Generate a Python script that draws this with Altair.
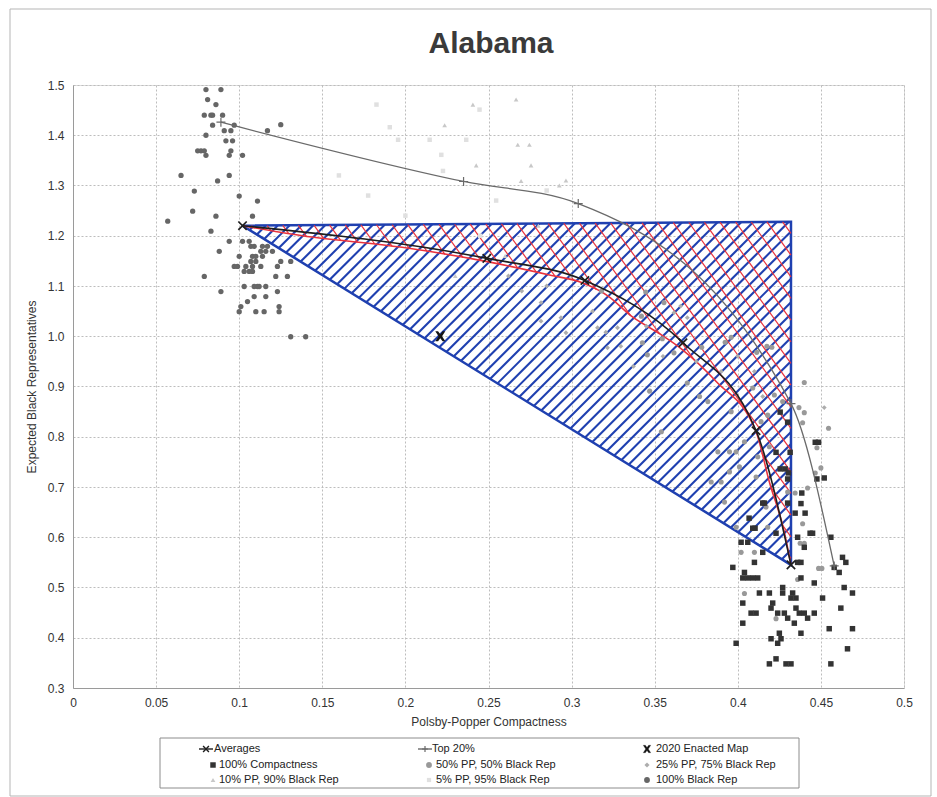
import altair as alt
import pandas as pd
import numpy as np

# ---------------- data ----------------
x_ticks = [0, 0.05, 0.1, 0.15, 0.2, 0.25, 0.3, 0.35, 0.4, 0.45, 0.5]
y_ticks = [0.3, 0.4, 0.5, 0.6, 0.7, 0.8, 0.9, 1.0, 1.1, 1.2, 1.3, 1.4, 1.5]

avg_x = [0.102, 0.249, 0.308, 0.367, 0.411, 0.432]
avg_y = [1.220, 1.155, 1.111, 0.987, 0.812, 0.545]

top_x = [0.089, 0.235, 0.304, 0.432, 0.458]
top_y = [1.426, 1.308, 1.264, 0.866, 0.543]

enacted_x = [0.221]
enacted_y = [1.000]

tri_x = [0.102, 0.432, 0.432, 0.102]
tri_y = [1.220, 1.228, 0.545, 1.220]

red_x = [0.102, 0.138, 0.198, 0.250, 0.288, 0.306, 0.322, 0.336, 0.352, 0.366, 0.387, 0.411, 0.419, 0.428, 0.432]
red_y = [1.220, 1.200, 1.177, 1.148, 1.121, 1.107, 1.080, 1.040, 1.007, 0.975, 0.910, 0.810, 0.710, 0.610, 0.545]

bk_x = [0.080, 0.089, 0.081, 0.086, 0.079, 0.083, 0.084, 0.090, 0.084, 0.097, 0.091, 0.095, 0.117, 0.125,
        0.080, 0.092, 0.096, 0.075, 0.077, 0.079, 0.095, 0.080, 0.094, 0.102, 0.065, 0.094, 0.087, 0.073,
        0.100, 0.111, 0.072, 0.086, 0.108, 0.057, 0.083,
        0.094, 0.102, 0.106, 0.107, 0.109, 0.114, 0.117, 0.088, 0.113, 0.116, 0.120, 0.100, 0.108, 0.110,
        0.114, 0.107, 0.110, 0.125, 0.131, 0.097, 0.099, 0.104, 0.108, 0.113, 0.123, 0.103, 0.106, 0.108,
        0.079, 0.122, 0.129, 0.089, 0.103, 0.109, 0.111, 0.112, 0.116, 0.109, 0.116, 0.123, 0.105, 0.101,
        0.100, 0.110, 0.115, 0.124, 0.124, 0.131, 0.140]
bk_y = [1.491, 1.491, 1.471, 1.461, 1.440, 1.440, 1.440, 1.440, 1.420, 1.420, 1.409, 1.409, 1.409, 1.421,
        1.400, 1.389, 1.389, 1.369, 1.369, 1.369, 1.369, 1.360, 1.360, 1.360, 1.320, 1.320, 1.309, 1.289,
        1.279, 1.269, 1.249, 1.239, 1.239, 1.229, 1.209,
        1.189, 1.189, 1.189, 1.179, 1.179, 1.179, 1.179, 1.169, 1.169, 1.169, 1.169, 1.159, 1.159, 1.159,
        1.159, 1.149, 1.149, 1.149, 1.149, 1.139, 1.139, 1.139, 1.139, 1.139, 1.139, 1.129, 1.129, 1.129,
        1.119, 1.119, 1.119, 1.089, 1.099, 1.099, 1.099, 1.099, 1.099, 1.079, 1.079, 1.089, 1.069, 1.059,
        1.049, 1.049, 1.049, 1.059, 1.049, 0.999, 0.999]

cp_x = [0.4255, 0.430, 0.4466, 0.4486, 0.4315, 0.423, 0.4476, 0.452, 0.4255, 0.4285, 0.4305, 0.430, 0.4385,
        0.415, 0.416, 0.430, 0.438, 0.4345, 0.4405, 0.4068, 0.409, 0.4104, 0.4435, 0.445, 0.423,
        0.456, 0.402, 0.406, 0.436, 0.440, 0.415, 0.463, 0.465, 0.410, 0.397, 0.436, 0.438, 0.458, 0.461,
        0.404, 0.403, 0.406, 0.409, 0.412, 0.438, 0.446, 0.464, 0.427, 0.469, 0.413, 0.419, 0.427, 0.433,
        0.432, 0.435, 0.451, 0.403, 0.421, 0.420, 0.435, 0.462, 0.408, 0.411, 0.424, 0.428, 0.437, 0.440,
        0.446, 0.430, 0.442, 0.403, 0.434, 0.455, 0.469, 0.425, 0.438, 0.420, 0.426, 0.399, 0.424, 0.466,
        0.423, 0.419, 0.429, 0.432, 0.456]
cp_y = [0.849, 0.829, 0.789, 0.789, 0.769, 0.769, 0.716, 0.718, 0.736, 0.736, 0.728, 0.716, 0.688,
        0.668, 0.668, 0.668, 0.667, 0.648, 0.648, 0.638, 0.618, 0.618, 0.608, 0.608, 0.608,
        0.600, 0.590, 0.590, 0.600, 0.580, 0.570, 0.560, 0.550, 0.550, 0.540, 0.550, 0.550, 0.540, 0.530,
        0.530, 0.519, 0.519, 0.519, 0.519, 0.519, 0.509, 0.500, 0.500, 0.489, 0.489, 0.489, 0.489, 0.489,
        0.479, 0.479, 0.479, 0.469, 0.469, 0.459, 0.459, 0.459, 0.449, 0.449, 0.449, 0.449, 0.449, 0.449,
        0.449, 0.439, 0.439, 0.429, 0.429, 0.418, 0.418, 0.409, 0.409, 0.398, 0.398, 0.389, 0.389, 0.378,
        0.358, 0.348, 0.348, 0.348, 0.348]

p50_x = [0.3446, 0.3556, 0.3426, 0.3456, 0.3546, 0.3616, 0.3696, 0.342, 0.318,
         0.347, 0.354, 0.377, 0.382, 0.396, 0.404, 0.388, 0.395, 0.399, 0.412, 0.411, 0.395, 0.401, 0.384,
         0.390, 0.392, 0.417, 0.399, 0.418, 0.402, 0.410, 0.430, 0.419, 0.414, 0.418, 0.409, 0.422, 0.427,
         0.3783, 0.3924, 0.396, 0.4175, 0.4205, 0.4114, 0.440, 0.4368, 0.440, 0.439, 0.4546, 0.4476, 0.450,
         0.4466, 0.442, 0.4345, 0.439, 0.4375, 0.440, 0.4486, 0.4506, 0.436, 0.423, 0.404]
p50_y = [1.088, 1.067, 0.987, 0.963, 0.995, 0.967, 0.907, 1.040, 1.090,
         0.891, 0.810, 0.880, 0.870, 0.850, 0.790, 0.770, 0.770, 0.770, 0.760, 0.720, 0.730, 0.740, 0.710,
         0.710, 0.670, 0.660, 0.620, 0.620, 0.570, 0.570, 0.690, 0.780, 0.830, 0.843, 0.897, 0.883, 0.870,
         0.978, 0.988, 0.998, 0.980, 0.978, 0.968, 0.908, 0.858, 0.848, 0.828, 0.817, 0.778, 0.738,
         0.728, 0.698, 0.688, 0.627, 0.588, 0.588, 0.538, 0.538, 0.516, 0.438, 0.488]

p25_x = [0.2816, 0.2936, 0.2816, 0.2966, 0.3126, 0.3156, 0.3276, 0.3216, 0.3296, 0.3372, 0.3466, 0.3616,
         0.3656, 0.3696, 0.262, 0.270, 0.285, 0.300, 0.345, 0.355, 0.375, 0.390, 0.400, 0.410, 0.452,
         0.415, 0.3206]
p25_y = [1.067, 1.037, 1.030, 1.007, 1.050, 1.017, 1.017, 0.977, 0.980, 0.940, 0.890, 1.047,
         1.060, 1.037, 1.120, 1.090, 1.100, 1.120, 1.020, 0.960, 0.950, 0.930, 0.960, 0.930, 0.858,
         0.880, 1.008]

p10_x = [0.2406, 0.2666, 0.2236, 0.2676, 0.2746, 0.2426, 0.2756, 0.2696, 0.2966, 0.2926, 0.280, 0.260, 0.230]
p10_y = [1.461, 1.471, 1.420, 1.381, 1.381, 1.340, 1.340, 1.309, 1.310, 1.300, 1.220, 1.160, 1.120]

p05_x = [0.1826, 0.1956, 0.2146, 0.2216, 0.2226, 0.1776, 0.2546, 0.2446, 0.1906, 0.2366, 0.160, 0.200, 0.285, 0.245]
p05_y = [1.461, 1.391, 1.391, 1.361, 1.329, 1.280, 1.270, 1.451, 1.416, 1.391, 1.320, 1.240, 1.290, 1.200]

legend_labels = ["Averages", "Top 20%", "2020 Enacted Map",
                 "100% Compactness", "50% PP, 50% Black Rep", "25% PP, 75% Black Rep",
                 "10% PP, 90% Black Rep", "5% PP, 95% Black Rep", "100% Black Rep"]

# ---------------- styling / layout ----------------
FONT = "Liberation Sans"
W, H = 831, 603
XD, YD = [0.0, 0.5], [0.3, 1.5]
SX = W / (XD[1] - XD[0])
SY = H / (YD[1] - YD[0])
BLUE = "#1f40b0"
RED = "#e8323c"
X_PATH = "M-1,-1L1,1M-1,1L1,-1"
PLUS_PATH = "M-1,0L1,0M0,-1L0,1"
BOWX_PATH = "M-1,-1L-0.45,-1L0,-0.4L0.45,-1L1,-1L0.35,0L1,1L0.45,1L0,0.4L-0.45,1L-1,1L-0.35,0Z"

series_style = {
    "5% PP, 95% Black Rep": ("#e0e0e0", "square", 20),
    "10% PP, 90% Black Rep": ("#c8c8c8", "triangle-up", 30),
    "25% PP, 75% Black Rep": ("#adadad", "diamond", 30),
    "50% PP, 50% Black Rep": ("#999999", "circle", 60),
    "100% Black Rep": ("#666666", "circle", 55),
    "100% Compactness": ("#333333", "square", 46),
}
series_data = {
    "5% PP, 95% Black Rep": (p05_x, p05_y),
    "10% PP, 90% Black Rep": (p10_x, p10_y),
    "25% PP, 75% Black Rep": (p25_x, p25_y),
    "50% PP, 50% Black Rep": (p50_x, p50_y),
    "100% Black Rep": (bk_x, bk_y),
    "100% Compactness": (cp_x, cp_y),
}
names = list(series_style)
scat = pd.concat([pd.DataFrame({"x": xs, "y": ys, "series": n}) for n, (xs, ys) in series_data.items()],
                 ignore_index=True)

XS = alt.Scale(domain=XD, nice=False, zero=False)
YS = alt.Scale(domain=YD, nice=False, zero=False)
X_AX = alt.Axis(values=x_ticks, format="~g", grid=True, gridDash=[2, 2], gridColor="#bdbdbd",
                domainColor="#9a9a9a", ticks=False, labelPadding=9, labelFontSize=12, labelFont=FONT,
                labelColor="#333333", titleFont=FONT, titleFontSize=12, titleFontWeight="normal",
                titleColor="#333333", titlePadding=8, labelFlush=False)
Y_AX = alt.Axis(values=y_ticks, format=".1f", grid=True, gridDash=[2, 2], gridColor="#bdbdbd",
                domainColor="#9a9a9a", ticks=False, labelPadding=9, labelFontSize=12, labelFont=FONT,
                labelColor="#333333", titleFont=FONT, titleFontSize=12, titleFontWeight="normal",
                titleColor="#333333", titlePadding=9, labelFlush=False)


def ex(f="x"):
    return alt.X(f"{f}:Q", scale=XS, axis=X_AX, title="Polsby-Popper Compactness")


def ey(f="y"):
    return alt.Y(f"{f}:Q", scale=YS, axis=Y_AX, title="Expected Black Representatives")


# ---------------- hatching computed from the region outlines ----------------
def top_edge(x):
    return np.interp(x, tri_x[:2], tri_y[:2])


def bottom_edge(x):
    return np.interp(x, [tri_x[0], tri_x[2]], [tri_y[0], tri_y[2]])


def in_blue(x, y):
    return (x >= tri_x[0]) & (x <= tri_x[1]) & (y <= top_edge(x)) & (y >= bottom_edge(x))


def in_red(x, y):
    return (x >= tri_x[0]) & (x <= tri_x[1]) & (y <= top_edge(x)) & (y >= np.interp(x, red_x, red_y))


def hatch(inside, slope, hspace, phase=0.0):
    umin, umax = (min(tri_x) - XD[0]) * SX, (max(tri_x) - XD[0]) * SX
    vmin, vmax = (min(tri_y) - YD[0]) * SY, (max(tri_y) - YD[0]) * SY
    cs = [vmin - slope * umin, vmin - slope * umax, vmax - slope * umin, vmax - slope * umax]
    step = hspace * abs(slope)
    u = np.linspace(umin, umax, 5000)
    rows = []
    for c in np.arange(min(cs) + phase, max(cs), step):
        v = slope * u + c
        xx = u / SX + XD[0]
        yy = v / SY + YD[0]
        m = inside(xx, yy).astype(int)
        d = np.diff(np.concatenate([[0], m, [0]]))
        st = np.flatnonzero(d == 1)
        en = np.flatnonzero(d == -1) - 1
        for s, e in zip(st, en):
            if e > s:
                rows.append({"x": xx[s], "y": yy[s], "x2": xx[e], "y2": yy[e]})
    return pd.DataFrame(rows)


blue_h = hatch(in_blue, 1.0, 11.8, 3.0)
red_h = hatch(in_red, -1.38, 15.7, 5.0)

# ---------------- layers ----------------
one = pd.DataFrame({"k": [0]})

frame = alt.Chart(one).mark_rect(fillOpacity=0, stroke="#b5b5b5", strokeWidth=1).encode(
    x=alt.value(-63), x2=alt.value(858), y=alt.value(-76), y2=alt.value(711))

title = alt.Chart(one).mark_text(text="Alabama", font=FONT, fontSize=30, fontWeight="bold",
                                  color="#3a3a3a", align="center", baseline="middle").encode(
    x=alt.value(418), y=alt.value(-41))

blue_rules = alt.Chart(blue_h).mark_rule(color=BLUE, strokeWidth=2.1).encode(
    x=ex(), y=ey(), x2="x2:Q", y2="y2:Q")
red_rules = alt.Chart(red_h).mark_rule(color=RED, strokeWidth=1.2).encode(
    x=ex(), y=ey(), x2="x2:Q", y2="y2:Q")

tri_df = pd.DataFrame({"x": tri_x, "y": tri_y, "i": range(len(tri_x))})
tri_line = alt.Chart(tri_df).mark_line(color=BLUE, strokeWidth=2.5).encode(
    x=ex(), y=ey(), order="i:Q")

red_df = pd.DataFrame({"x": red_x, "y": red_y})
red_line = alt.Chart(red_df).mark_line(color=RED, strokeWidth=1.6, interpolate="monotone").encode(
    x=ex(), y=ey())

points = alt.Chart(scat).mark_point(filled=True, opacity=1).encode(
    x=ex(), y=ey(),
    color=alt.Color("series:N", scale=alt.Scale(domain=names, range=[series_style[n][0] for n in names]),
                    legend=None),
    shape=alt.Shape("series:N", scale=alt.Scale(domain=names, range=[series_style[n][1] for n in names]),
                    legend=None),
    size=alt.Size("series:N", scale=alt.Scale(domain=names, range=[series_style[n][2] for n in names]),
                  legend=None),
    order=alt.Order("ord:Q"),
).transform_calculate(ord="indexof(" + str(names) + ", datum.series)")

avg_df = pd.DataFrame({"x": avg_x, "y": avg_y})
avg_line = alt.Chart(avg_df).mark_line(color="#1e1e1e", strokeWidth=1.6, interpolate="monotone").encode(
    x=ex(), y=ey())
avg_pts = alt.Chart(avg_df).mark_point(shape=X_PATH, filled=False, size=70, color="#1e1e1e",
                                       strokeWidth=1.7, opacity=1).encode(x=ex(), y=ey())

top_df = pd.DataFrame({"x": top_x, "y": top_y})
top_line = alt.Chart(top_df).mark_line(color="#6a6a6a", strokeWidth=1.3, interpolate="monotone").encode(
    x=ex(), y=ey())
top_pts = alt.Chart(top_df).mark_point(shape=PLUS_PATH, filled=False, size=80, color="#6a6a6a",
                                       strokeWidth=1.2, opacity=1).encode(x=ex(), y=ey())

en_df = pd.DataFrame({"x": enacted_x, "y": enacted_y})
en_pts = alt.Chart(en_df).mark_point(shape=BOWX_PATH, filled=True, size=100, color="#151515",
                                     opacity=1).encode(x=ex(), y=ey())

# ---------------- legend (boxed, 3 columns) ----------------
leg_style = {
    "Averages": ("#1e1e1e", X_PATH, 34, 1.4),
    "Top 20%": ("#6a6a6a", PLUS_PATH, 34, 1.2),
    "2020 Enacted Map": ("#151515", BOWX_PATH, 55, 0.3),
    "100% Compactness": ("#333333", "square", 30, 0),
    "50% PP, 50% Black Rep": ("#999999", "circle", 34, 0),
    "25% PP, 75% Black Rep": ("#adadad", "diamond", 26, 0),
    "10% PP, 90% Black Rep": ("#c8c8c8", "triangle-up", 22, 0),
    "5% PP, 95% Black Rep": ("#e0e0e0", "square", 18, 0),
    "100% Black Rep": ("#666666", "circle", 34, 0),
}
col_sym = [140, 356, 574]
col_line = [133, 352, 574]
col_txt = [146, 363, 583]
col_txt_line = [141, 359, 583]
row_y = [664, 680, 695]
line_entries = ["Averages", "Top 20%"]

sym_rows, txt_rows = [], []
for i, lab in enumerate(legend_labels):
    r, c = divmod(i, 3)
    colr, shp, sz, sw = leg_style[lab]
    is_line = lab in line_entries
    sx_ = col_line[c] if is_line else col_sym[c]
    if is_line:
        sym_rows.append({"lx": sx_, "ly": row_y[r], "shp": "stroke", "col": colr, "fil": "transparent",
                         "sz": 196, "sw": 1.4})
    sym_rows.append({"lx": sx_, "ly": row_y[r], "shp": shp, "col": colr,
                     "fil": "transparent" if is_line else colr, "sz": sz, "sw": sw})
    txt_rows.append({"lx": col_txt_line[c] if is_line else col_txt[c], "ly": row_y[r], "label": lab})

leg_box = alt.Chart(one).mark_rect(fill="white", stroke="#8c8c8c", strokeWidth=1).encode(
    x=alt.value(87), x2=alt.value(726), y=alt.value(653), y2=alt.value(703))
leg_sym = alt.Chart(pd.DataFrame(sym_rows)).mark_point(filled=True, opacity=1).encode(
    x=alt.X("lx:Q", scale=None, axis=None), y=alt.Y("ly:Q", scale=None, axis=None),
    shape=alt.Shape("shp:N", scale=None), fill=alt.Fill("fil:N", scale=None),
    stroke=alt.Stroke("col:N", scale=None), size=alt.Size("sz:Q", scale=None),
    strokeWidth=alt.StrokeWidth("sw:Q", scale=None))
leg_txt = alt.Chart(pd.DataFrame(txt_rows)).mark_text(font=FONT, fontSize=11, color="#222222",
                                                      align="left", baseline="middle").encode(
    x=alt.X("lx:Q", scale=None, axis=None), y=alt.Y("ly:Q", scale=None, axis=None), text="label:N")

chart = alt.layer(
    frame, title, blue_rules, tri_line, red_rules, red_line, points,
    top_line, top_pts, avg_line, avg_pts, en_pts, leg_box, leg_sym, leg_txt
).properties(
    width=W, height=H, padding={"left": 9, "top": 8, "right": 5, "bottom": 0}
).configure_view(stroke=None).configure(background="white")

chart.save("out.html", embed_options={"renderer": "svg", "actions": False})
